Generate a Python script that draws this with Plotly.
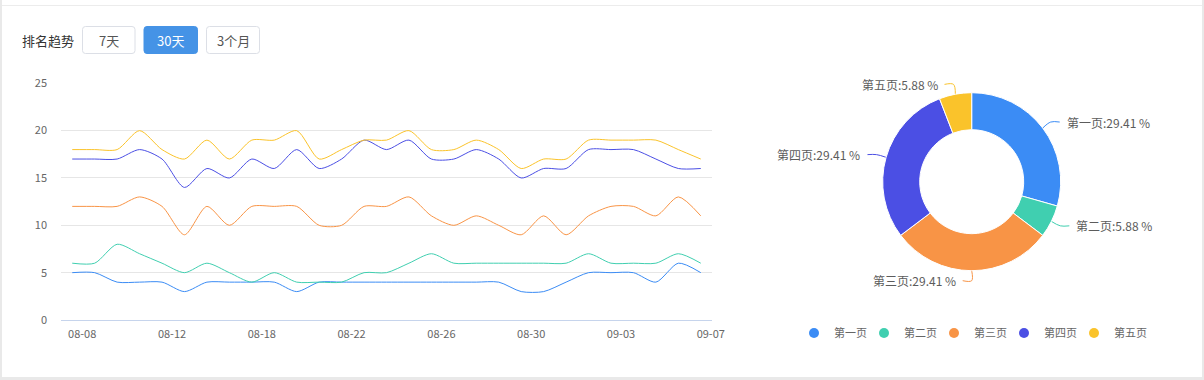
import math
import plotly.graph_objects as go

W, H = 1204, 380

# ---------------- data ----------------
dates = ["08-08", "08-09", "08-10", "08-11", "08-12", "08-13", "08-14", "08-15",
         "08-18", "08-19", "08-20", "08-21", "08-22", "08-23", "08-24", "08-25",
         "08-26", "08-27", "08-28", "08-29", "08-30", "08-31", "09-01", "09-02",
         "09-03", "09-04", "09-05", "09-06", "09-07"]
tick_labels = ["08-08", "08-12", "08-18", "08-22", "08-26", "08-30", "09-03", "09-07"]

series_names = ["第一页", "第二页", "第三页", "第四页", "第五页"]
page1 = [5, 5, 4, 4, 4, 3, 4, 4, 4, 4, 3, 4, 4, 4, 4, 4, 4, 4, 4, 4, 3, 3, 4, 5, 5, 5, 4, 6, 5]
page2 = [6, 6, 8, 7, 6, 5, 6, 5, 4, 5, 4, 4, 4, 5, 5, 6, 7, 6, 6, 6, 6, 6, 6, 7, 6, 6, 6, 7, 6]
page3 = [12, 12, 12, 13, 12, 9, 12, 10, 12, 12, 12, 10, 10, 12, 12, 13, 11, 10, 11, 10, 9, 11, 9, 11, 12, 12, 11, 13, 11]
page4 = [17, 17, 17, 18, 17, 14, 16, 15, 17, 16, 18, 16, 17, 19, 18, 19, 17, 17, 18, 17, 15, 16, 16, 18, 18, 18, 17, 16, 16]
page5 = [18, 18, 18, 20, 18, 17, 19, 17, 19, 19, 20, 17, 18, 19, 19, 20, 18, 18, 19, 18, 16, 17, 17, 19, 19, 19, 19, 18, 17]

pie_labels = ["第一页", "第二页", "第三页", "第四页", "第五页"]
pie_values = [5, 1, 5, 5, 1]

y_ticks = [0, 5, 10, 15, 20, 25]
buttons = ["7天", "30天", "3个月"]

# ---------------- styles ----------------
colors = ["#3b8cf5", "#40cfb0", "#f89446", "#4b4fe4", "#fac32b"]
FONT = "Noto Sans CJK SC, Microsoft YaHei, sans-serif"
TXT = "#666666"


def px(x):
    return x / W


def py(y):
    return 1 - y / H


fig = go.Figure()

# line chart
for name, vals, c in zip(series_names, [page1, page2, page3, page4, page5], colors):
    fig.add_trace(go.Scatter(
        x=dates, y=vals, name=name, mode="lines",
        line=dict(color=c, width=1, shape="spline", smoothing=0.75),
        showlegend=False, xaxis="x", yaxis="y",
    ))

# donut
CX, CY, R = 971.7, 181.7, 89.0
HOLE = 52.0 / R
fig.add_trace(go.Pie(
    labels=pie_labels, values=pie_values, sort=False, direction="clockwise",
    rotation=0, hole=HOLE, textinfo="none", showlegend=False,
    marker=dict(colors=colors, line=dict(color="#ffffff", width=1)),
    domain=dict(x=[px(CX - R), px(CX + R)], y=[py(CY + R), py(CY - R)]),
))

# legend entries (circle markers), one small legend per entry
legend_layout = {}
for i, (name, c) in enumerate(zip(pie_labels, colors)):
    lid = "legend" if i == 0 else f"legend{i + 1}"
    fig.add_trace(go.Scatter(
        x=[None], y=[None], mode="markers", name=name,
        marker=dict(color=c, size=10, symbol="circle"),
        xaxis="x2", yaxis="y2", showlegend=True, legend=lid,
    ))
    legend_layout[lid] = dict(
        orientation="h", x=px(794 + 70 * i), xanchor="left", y=py(333), yanchor="middle",
        font=dict(size=11, color=TXT, family=FONT), itemwidth=30,
        bgcolor="rgba(0,0,0,0)", itemclick=False, itemdoubleclick=False,
    )

# donut labels with leader lines (computed from pie values)
total = sum(pie_values)
annotations = []
cum = 0.0
for name, v, c in zip(pie_labels, pie_values, colors):
    a0 = cum / total * 360
    cum += v
    a1 = cum / total * 360
    mid = math.radians((a0 + a1) / 2)
    dx, dy = math.sin(mid), -math.cos(mid)
    p = (CX + R * dx, CY + R * dy)
    q = (p[0] + 10 * dx, p[1] + 10 * dy)
    sign = 1 if dx > 1e-6 else -1
    e = (q[0] + sign * 9, q[1])
    t = (q[0] + sign * 14, q[1])
    fig.add_trace(go.Scatter(
        x=[p[0], q[0], e[0]], y=[p[1], q[1], e[1]], mode="lines",
        line=dict(color=c, width=1, shape="spline", smoothing=1),
        showlegend=False, hoverinfo="skip", xaxis="x2", yaxis="y2",
    ))
    pct = v / total * 100
    annotations.append(dict(
        x=t[0], y=t[1], xref="x2", yref="y2", text=f"{name}:{pct:.2f} %",
        showarrow=False, xanchor="left" if sign > 0 else "right", yanchor="middle",
        font=dict(size=12, color="#5c5c5c", family=FONT),
    ))

# header texts
annotations.append(dict(x=px(19.5), y=py(40), xref="paper", yref="paper", text="排名趋势",
                        showarrow=False, xanchor="left", yanchor="middle",
                        font=dict(size=13, color="#333333", family=FONT)))
btn_boxes = [(82.5, 135), (144, 197.5), (206.5, 259.5)]
shapes = []


def rrect(x0, y0, x1, y1, r):
    pts = [
        f"M {px(x0 + r)},{py(y0)}", f"L {px(x1 - r)},{py(y0)}", f"Q {px(x1)},{py(y0)} {px(x1)},{py(y0 + r)}",
        f"L {px(x1)},{py(y1 - r)}", f"Q {px(x1)},{py(y1)} {px(x1 - r)},{py(y1)}",
        f"L {px(x0 + r)},{py(y1)}", f"Q {px(x0)},{py(y1)} {px(x0)},{py(y1 - r)}",
        f"L {px(x0)},{py(y0 + r)}", f"Q {px(x0)},{py(y0)} {px(x0 + r)},{py(y0)}", "Z",
    ]
    return " ".join(pts)


for i, (lbl, (x0, x1)) in enumerate(zip(buttons, btn_boxes)):
    active = (i == 1)
    shapes.append(dict(type="path", xref="paper", yref="paper",
                       path=rrect(x0, 26.5, x1, 53.5, 3),
                       fillcolor="#4593e6" if active else "#ffffff",
                       line=dict(color="#4593e6" if active else "#dcdfe6", width=1)))
    annotations.append(dict(x=px((x0 + x1) / 2), y=py(40), xref="paper", yref="paper", text=lbl,
                            showarrow=False, xanchor="center", yanchor="middle",
                            font=dict(size=13, color="#ffffff" if active else "#555555", family=FONT)))

# card frame
GRAY = "#e9e9e9"
shapes += [
    dict(type="rect", xref="paper", yref="paper", x0=px(0), x1=px(2), y0=py(380), y1=py(0),
         fillcolor=GRAY, line=dict(width=0), layer="above"),
    dict(type="rect", xref="paper", yref="paper", x0=px(1202), x1=px(1204), y0=py(380), y1=py(0),
         fillcolor=GRAY, line=dict(width=0), layer="above"),
    dict(type="rect", xref="paper", yref="paper", x0=px(0), x1=px(1204), y0=py(380), y1=py(377),
         fillcolor=GRAY, line=dict(width=0), layer="above"),
    dict(type="line", xref="paper", yref="paper", x0=px(2), x1=px(1202), y0=py(5.5), y1=py(5.5),
         line=dict(color="#ececec", width=1)),
]

fig.update_layout(
    width=W, height=H,
    margin=dict(l=0, r=0, t=0, b=0, pad=0, autoexpand=False),
    paper_bgcolor="#ffffff", plot_bgcolor="rgba(0,0,0,0)",
    font=dict(family=FONT, color=TXT),
    xaxis=dict(
        domain=[px(61), px(712)], anchor="y", automargin=False,
        type="category", categoryorder="array", categoryarray=dates,
        range=[-0.5, len(dates) - 0.5],
        tickmode="array", tickvals=tick_labels, ticktext=tick_labels,
        showgrid=False, zeroline=False, showline=True, linecolor="#c6d4ec", linewidth=1,
        ticks="", tickfont=dict(size=11, color=TXT, family=FONT),
        ticklabelshift=10, ticklabelstandoff=4,
    ),
    yaxis=dict(
        domain=[py(320), py(83.3)], anchor="x", automargin=False,
        range=[0, 25], tickmode="array", tickvals=y_ticks,
        showgrid=True, gridcolor="#e6e6e6", gridwidth=1, zeroline=False, showline=False,
        ticks="", tickfont=dict(size=11, color=TXT, family=FONT), ticklabelstandoff=13,
    ),
    xaxis2=dict(domain=[0, 1], anchor="y2", range=[0, W], visible=False, fixedrange=True),
    yaxis2=dict(domain=[0, 1], anchor="x2", range=[H, 0], visible=False, fixedrange=True),
    shapes=shapes,
    annotations=annotations,
    showlegend=True,
    **legend_layout,
)

fig.write_html(
    "out.html",
    config={"displayModeBar": False},
    post_script="document.body.style.margin='0';document.body.style.overflow='hidden';",
)
